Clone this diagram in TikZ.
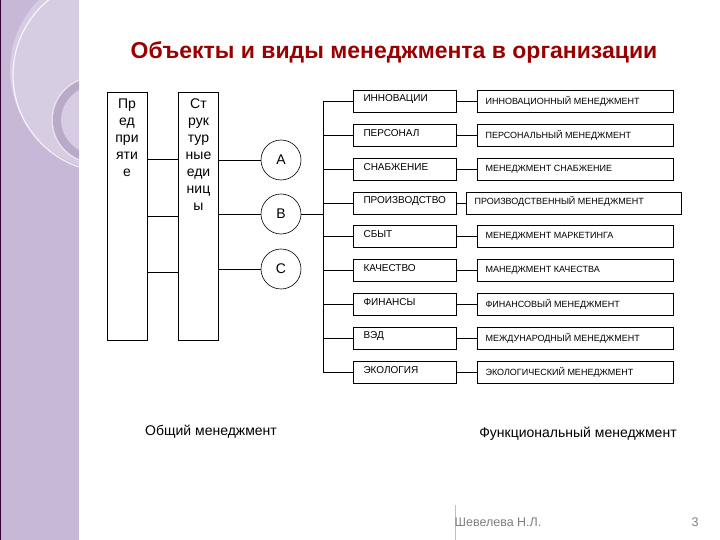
\documentclass[tikz,border=0pt]{standalone}
\usepackage{fontspec}
\setmainfont{Liberation Sans}
\definecolor{panel}{RGB}{198,184,214}
\definecolor{ring}{RGB}{184,170,200}
\begin{document}
\begin{tikzpicture}[x=1pt,y=-1pt,
  cell/.style={draw,line width=0.8pt,minimum height=22,inner sep=0,anchor=west},
  tall/.style={draw,line width=0.8pt,minimum width=40,minimum height=248,anchor=north},
  circ/.style={draw,circle,line width=0.6pt,minimum size=40,inner sep=0,font=\fontsize{14}{14}\selectfont},
  tx/.style={anchor=west,font=\fontsize{10}{10}\selectfont},
  ln/.style={line width=0.8pt}]
\useasboundingbox (0,0) rectangle (720,540);
\fill[white] (0,0) rectangle (720,540);
% decorative panel
\fill[panel] (0,0) rectangle (79,540);
\begin{scope}
\clip (0,0) rectangle (79,540);
\fill[white,opacity=0.3] (110,70) circle (100);
\draw[white,line width=1.2pt,opacity=0.8] (110,75) circle (97);
\draw[ring,line width=8pt] (95,120) circle (38);
\draw[white,opacity=0.5,line width=1pt] (95,120) circle (43);
\end{scope}
\draw[violet!40!black,line width=1pt] (0.5,0) -- (0.5,540);
% title
\node[font=\bfseries\fontsize{23}{23}\selectfont,text=red!60!black] (title) at (394,52) {Объекты и виды менеджмента в организации};
% tall boxes
\node[tall] (p) at (127,92) {};
\node[tall] (s) at (198.5,92) {};
\node[align=center,anchor=north,font=\fontsize{14}{17}\selectfont] (pt) at (127,95) {Пр\\ед\\при\\яти\\е};
\node[align=center,anchor=north,font=\fontsize{14}{17}\selectfont] (st) at (198.5,95) {Ст\\рук\\тур\\ные\\еди\\ниц\\ы};
% circles
\node[circ] (A) at (281,160) {A};
\node[circ] (B) at (281,214) {B};
\node[circ] (C) at (281,269) {C};
\foreach \y in {159,216,272}{
  \draw[ln] (147,\y) -- (178,\y);
}
\draw[ln] (219,160) -- (A.west);
\draw[ln] (219,214) -- (B.west);
\draw[ln] (219,269) -- (C.west);
\coordinate (bt) at (323,101);
\coordinate (bb) at (323,372);
\draw[ln] (bt) -- (bb);
\draw[ln] (B.east) -- (323,214);
% rows
\foreach \i/\a/\b [count=\k] in {
 101/ИННОВАЦИИ/ИННОВАЦИОННЫЙ  МЕНЕДЖМЕНТ,
 135/ПЕРСОНАЛ/ПЕРСОНАЛЬНЫЙ МЕНЕДЖМЕНТ,
 169/СНАБЖЕНИЕ/МЕНЕДЖМЕНТ СНАБЖЕНИЕ,
 203/ПРОИЗВОДСТВО/ПРОИЗВОДСТВЕННЫЙ МЕНЕДЖМЕНТ,
 236/СБЫТ/МЕНЕДЖМЕНТ МАРКЕТИНГА,
 270/КАЧЕСТВО/МАНЕДЖМЕНТ КАЧЕСТВА,
 304/ФИНАНСЫ/ФИНАНСОВЫЙ МЕНЕДЖМЕНТ,
 338/ВЭД/МЕЖДУНАРОДНЫЙ МЕНЕДЖМЕНТ,
 372/ЭКОЛОГИЯ/ЭКОЛОГИЧЕСКИЙ МЕНЕДЖМЕНТ}{
  \node[cell,minimum width=103] (l\k) at (353,\i) {};
  \node[tx] at (360,\i-2) {\a};
  \ifnum\k=4
    \node[cell,minimum width=215] (r\k) at (466,\i) {};
    \node[tx,font=\fontsize{9}{9}\selectfont] at (471,\i-2) {\b};
  \else
    \node[cell,minimum width=196] (r\k) at (477,\i) {};
    \node[tx,font=\fontsize{9}{9}\selectfont] at (482,\i) {\b};
  \fi
  \draw[ln] (323,\i) -- (l\k.west);
  \draw[ln] (l\k.east) -- (r\k.west);
}
\node[font=\fontsize{14}{14}\selectfont] (gm) at (211,432) {Общий менеджмент};
\node[font=\fontsize{14}{14}\selectfont] (fm) at (578,434) {Функциональный менеджмент};
\draw[gray!50,line width=0.6pt] (455,505) -- (455,540);
\node[text=gray,font=\fontsize{12.5}{12.5}\selectfont] (au) at (498,522) {Шевелева Н.Л.};
\node[text=gray,font=\fontsize{12.5}{12.5}\selectfont] (pg) at (695,522) {3};
\end{tikzpicture}
\end{document}
